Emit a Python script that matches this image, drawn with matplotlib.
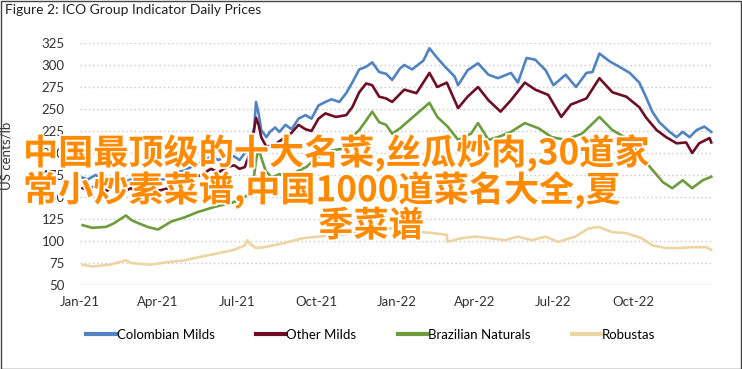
import matplotlib
matplotlib.use("Agg")
import matplotlib.pyplot as plt
import matplotlib.patheffects as pe
from matplotlib.lines import Line2D
import pandas as pd

title = "Figure 2: ICO Group Indicator Daily Prices"
ylabel = "US cents/lb"
yticks = [50, 75, 100, 125, 150, 175, 200, 225, 250, 275, 300, 325]
xtick_dates = ["2021-01-01", "2021-04-01", "2021-07-01", "2021-10-01",
               "2022-01-01", "2022-04-01", "2022-07-01", "2022-10-01"]
xtick_labels = ["Jan-21", "Apr-21", "Jul-21", "Oct-21", "Jan-22", "Apr-22", "Jul-22", "Oct-22"]
series_names = ["Colombian Milds", "Other Milds", "Brazilian Naturals", "Robustas"]
series_colors = ["#5183C2", "#6E0E26", "#6C9C3C", "#EDD5A3"]
watermark_lines = ["中国最顶级的十大名菜,丝瓜炒肉,30道家",
                   "常小炒素菜谱,中国1000道菜名大全,夏",
                   "季菜谱"]

colombian_dates = ["2021-01-04", "2021-01-10", "2021-01-19", "2021-02-01", "2021-02-09", "2021-02-18",
                   "2021-03-01", "2021-03-13", "2021-03-22", "2021-04-01", "2021-04-13", "2021-04-22",
                   "2021-05-01", "2021-05-13", "2021-05-22", "2021-06-01", "2021-06-10", "2021-06-19",
                   "2021-06-28", "2021-07-04", "2021-07-10", "2021-07-16", "2021-07-21", "2021-07-23",
                   "2021-07-26", "2021-07-29", "2021-08-04", "2021-08-08", "2021-08-14", "2021-08-19",
                   "2021-08-26", "2021-09-02", "2021-09-10", "2021-09-18", "2021-09-25", "2021-10-03",
                   "2021-10-11", "2021-10-18", "2021-10-27", "2021-11-04", "2021-11-11", "2021-11-19",
                   "2021-11-27", "2021-12-04", "2021-12-12", "2021-12-20", "2021-12-27", "2022-01-05",
                   "2022-01-10", "2022-01-19", "2022-02-01", "2022-02-08", "2022-02-17", "2022-02-26",
                   "2022-03-09", "2022-03-13", "2022-03-24", "2022-04-05", "2022-04-17", "2022-04-28",
                   "2022-05-13", "2022-05-21", "2022-05-31", "2022-06-10", "2022-06-22", "2022-07-01",
                   "2022-07-15", "2022-07-27", "2022-08-08", "2022-08-15", "2022-08-23", "2022-09-04",
                   "2022-09-15", "2022-09-27", "2022-10-08", "2022-10-16", "2022-10-23", "2022-10-31",
                   "2022-11-12", "2022-11-20", "2022-11-27", "2022-12-05", "2022-12-13", "2022-12-22",
                   "2022-12-30"]
colombian_vals = [172, 170, 175, 168, 172, 166, 170, 165, 175, 168, 172, 178,
                  180, 186, 190, 196, 192, 198, 196, 192, 200, 204, 230, 258,
                  245, 226, 218, 224, 229, 224, 232, 227, 239, 243, 239, 254,
                  258, 261, 258, 268, 280, 295, 298, 303, 292, 290, 283, 296,
                  300, 295, 305, 319, 308, 298, 287, 277, 294, 302, 289, 285,
                  291, 280, 308, 306, 294, 277, 289, 275, 291, 292, 313, 304,
                  298, 291, 280, 263, 247, 235, 224, 218, 224, 218, 226, 230,
                  224]

other_dates = ["2021-01-04", "2021-01-10", "2021-01-19", "2021-02-01", "2021-02-09", "2021-02-18",
               "2021-03-01", "2021-03-13", "2021-03-22", "2021-04-01", "2021-04-13", "2021-04-22",
               "2021-05-01", "2021-05-13", "2021-05-22", "2021-06-01", "2021-06-10", "2021-06-19",
               "2021-06-28", "2021-07-04", "2021-07-10", "2021-07-17", "2021-07-23", "2021-07-26",
               "2021-07-29", "2021-08-04", "2021-08-14", "2021-08-26", "2021-09-02", "2021-09-10",
               "2021-09-18", "2021-09-25", "2021-10-03", "2021-10-11", "2021-10-23", "2021-11-04",
               "2021-11-11", "2021-11-19", "2021-11-27", "2021-12-04", "2021-12-12", "2021-12-20",
               "2021-12-27", "2022-01-10", "2022-01-24", "2022-02-08", "2022-02-17", "2022-02-28",
               "2022-03-13", "2022-03-24", "2022-04-05", "2022-04-17", "2022-05-01", "2022-05-13",
               "2022-05-29", "2022-06-10", "2022-06-25", "2022-07-10", "2022-07-21", "2022-08-08",
               "2022-08-23", "2022-09-07", "2022-09-23", "2022-10-08", "2022-10-16", "2022-10-28",
               "2022-11-08", "2022-11-20", "2022-12-01", "2022-12-08", "2022-12-16", "2022-12-28",
               "2022-12-30"]
other_vals = [160, 158, 163, 157, 162, 155, 160, 154, 163, 157, 160, 165,
              168, 172, 176, 182, 178, 184, 186, 182, 184, 203, 240, 232,
              218, 207, 210, 218, 223, 232, 227, 225, 239, 245, 241, 243,
              252, 269, 279, 277, 264, 262, 258, 272, 268, 291, 275, 280,
              251, 264, 275, 260, 247, 260, 280, 272, 266, 241, 255, 262,
              285, 269, 264, 252, 240, 226, 218, 211, 212, 200, 211, 217,
              212]

brazil_dates = ["2021-01-04", "2021-01-15", "2021-01-31", "2021-02-09", "2021-02-23", "2021-03-01",
                "2021-03-05", "2021-03-20", "2021-04-01", "2021-04-16", "2021-05-02", "2021-05-17",
                "2021-06-06", "2021-06-24", "2021-07-07", "2021-07-13", "2021-07-19", "2021-07-23",
                "2021-07-26", "2021-07-29", "2021-08-03", "2021-08-10", "2021-08-19", "2021-08-28",
                "2021-09-10", "2021-09-19", "2021-10-01", "2021-10-10", "2021-10-19", "2021-11-01",
                "2021-11-10", "2021-11-19", "2021-11-27", "2021-12-04", "2021-12-12", "2021-12-20",
                "2021-12-27", "2022-01-05", "2022-01-19", "2022-02-08", "2022-02-17", "2022-03-01",
                "2022-03-13", "2022-03-28", "2022-04-05", "2022-04-17", "2022-04-28", "2022-05-13",
                "2022-05-29", "2022-06-14", "2022-06-29", "2022-07-15", "2022-08-03", "2022-08-23",
                "2022-09-07", "2022-09-23", "2022-10-11", "2022-10-23", "2022-11-04", "2022-11-15",
                "2022-11-27", "2022-12-08", "2022-12-20", "2022-12-30"]
brazil_vals = [118, 115, 116, 120, 129, 124, 122, 116, 113, 122, 127, 133,
               139, 143, 148, 152, 160, 192, 205, 195, 180, 172, 176, 172,
               180, 184, 195, 198, 203, 205, 218, 226, 237, 247, 235, 232,
               222, 228, 240, 257, 241, 230, 215, 222, 234, 215, 218, 224,
               234, 228, 218, 215, 222, 241, 226, 217, 195, 181, 167, 160,
               169, 160, 169, 173]

robusta_dates = ["2021-01-04", "2021-01-15", "2021-02-04", "2021-02-23", "2021-03-01", "2021-03-23",
                 "2021-04-12", "2021-05-01", "2021-05-20", "2021-06-09", "2021-06-28", "2021-07-10",
                 "2021-07-13", "2021-07-17", "2021-07-23", "2021-08-02", "2021-08-26", "2021-09-14",
                 "2021-10-03", "2021-10-26", "2021-11-19", "2021-12-12", "2022-01-04", "2022-01-31",
                 "2022-02-12", "2022-02-28", "2022-03-01", "2022-03-16", "2022-04-02", "2022-04-20",
                 "2022-05-06", "2022-05-21", "2022-06-06", "2022-06-22", "2022-07-06", "2022-07-26",
                 "2022-08-10", "2022-08-22", "2022-09-07", "2022-09-23", "2022-10-11", "2022-10-23",
                 "2022-11-08", "2022-11-23", "2022-12-08", "2022-12-24", "2022-12-30"]
robusta_vals = [73, 71, 73, 78, 75, 73, 76, 78, 82, 86, 90, 95,
                101, 96, 92, 93, 98, 103, 105, 107, 110, 112, 116, 110,
                109, 107, 99, 103, 105, 103, 101, 105, 101, 105, 99, 105,
                114, 116, 110, 109, 103, 95, 92, 92, 93, 93, 90]

all_dates = [colombian_dates, other_dates, brazil_dates, robusta_dates]
all_vals = [colombian_vals, other_vals, brazil_vals, robusta_vals]

W, H = 742, 369
fig = plt.figure(figsize=(W / 100, H / 100), dpi=100)
ax = fig.add_axes([80 / W, 1 - 285 / H, (713 - 80) / W, (285 - 43) / H])

ui = ["Lato", "DejaVu Sans"]

for d, v, c, n in zip(all_dates, all_vals, series_colors, series_names):
    ax.plot(pd.to_datetime(d), v, color=c, lw=1.9, label=n, zorder=3,
            solid_joinstyle="round")

ax.set_ylim(50, 325)
ax.set_yticks(yticks)
ax.set_xlim(pd.Timestamp("2021-01-01"), pd.Timestamp("2023-01-01"))
ax.set_xticks(pd.to_datetime(xtick_dates))
ax.set_xticklabels(xtick_labels)
for t in yticks[1:]:
    ax.axhline(t, color="#C8C8C8", lw=1.0, ls=(0, (1, 2)), zorder=1)
ax.axhline(50, color="#D0D0D0", lw=1.0, zorder=1)
for s in ax.spines.values():
    s.set_visible(False)
ax.tick_params(length=0, labelsize=9.5, colors="#333333")
ax.tick_params(axis="y", pad=11)
ax.tick_params(axis="x", pad=8)
for lab in ax.get_xticklabels() + ax.get_yticklabels():
    lab.set_family(ui)
ax.set_ylabel(ylabel, family=ui, fontsize=9.5, color="#333333")
ax.yaxis.set_label_coords((13 - 80) / 633, (285 - 156) / 242)

fig.text(5 / W, 1 - 10 / H, title, family=ui, fontsize=10, color="#222222",
         ha="left", va="center")

handles = [Line2D([], [], color=c, lw=3) for c in series_colors]
fig.legend(handles, series_names, loc="center", bbox_to_anchor=(0.5, 1 - 335 / H),
           ncol=4, frameon=False, handlelength=2.2, handletextpad=0.12,
           columnspacing=3.1, prop={"family": ui, "size": 9.5})

# page frame
fig.add_artist(plt.Rectangle((0.5 / W, 0.5 / H), 1 - 1.5 / W, 1 - 1.5 / H,
                             transform=fig.transFigure, fill=False, ec="#444444", lw=1))

wm_style = dict(family=["Noto Sans CJK SC", "DejaVu Sans"], fontsize=25.3, fontweight="bold",
                color="#FF8A00", va="center", zorder=10,
                path_effects=[pe.withStroke(linewidth=2.5, foreground="white")])
fig.text(23 / W, 1 - 153 / H, watermark_lines[0], ha="left", **wm_style)
fig.text(23 / W, 1 - 190 / H, watermark_lines[1], ha="left", **wm_style)
fig.text(371 / W, 1 - 226 / H, watermark_lines[2], ha="center", **wm_style)

fig.savefig("out.png", dpi=100)
